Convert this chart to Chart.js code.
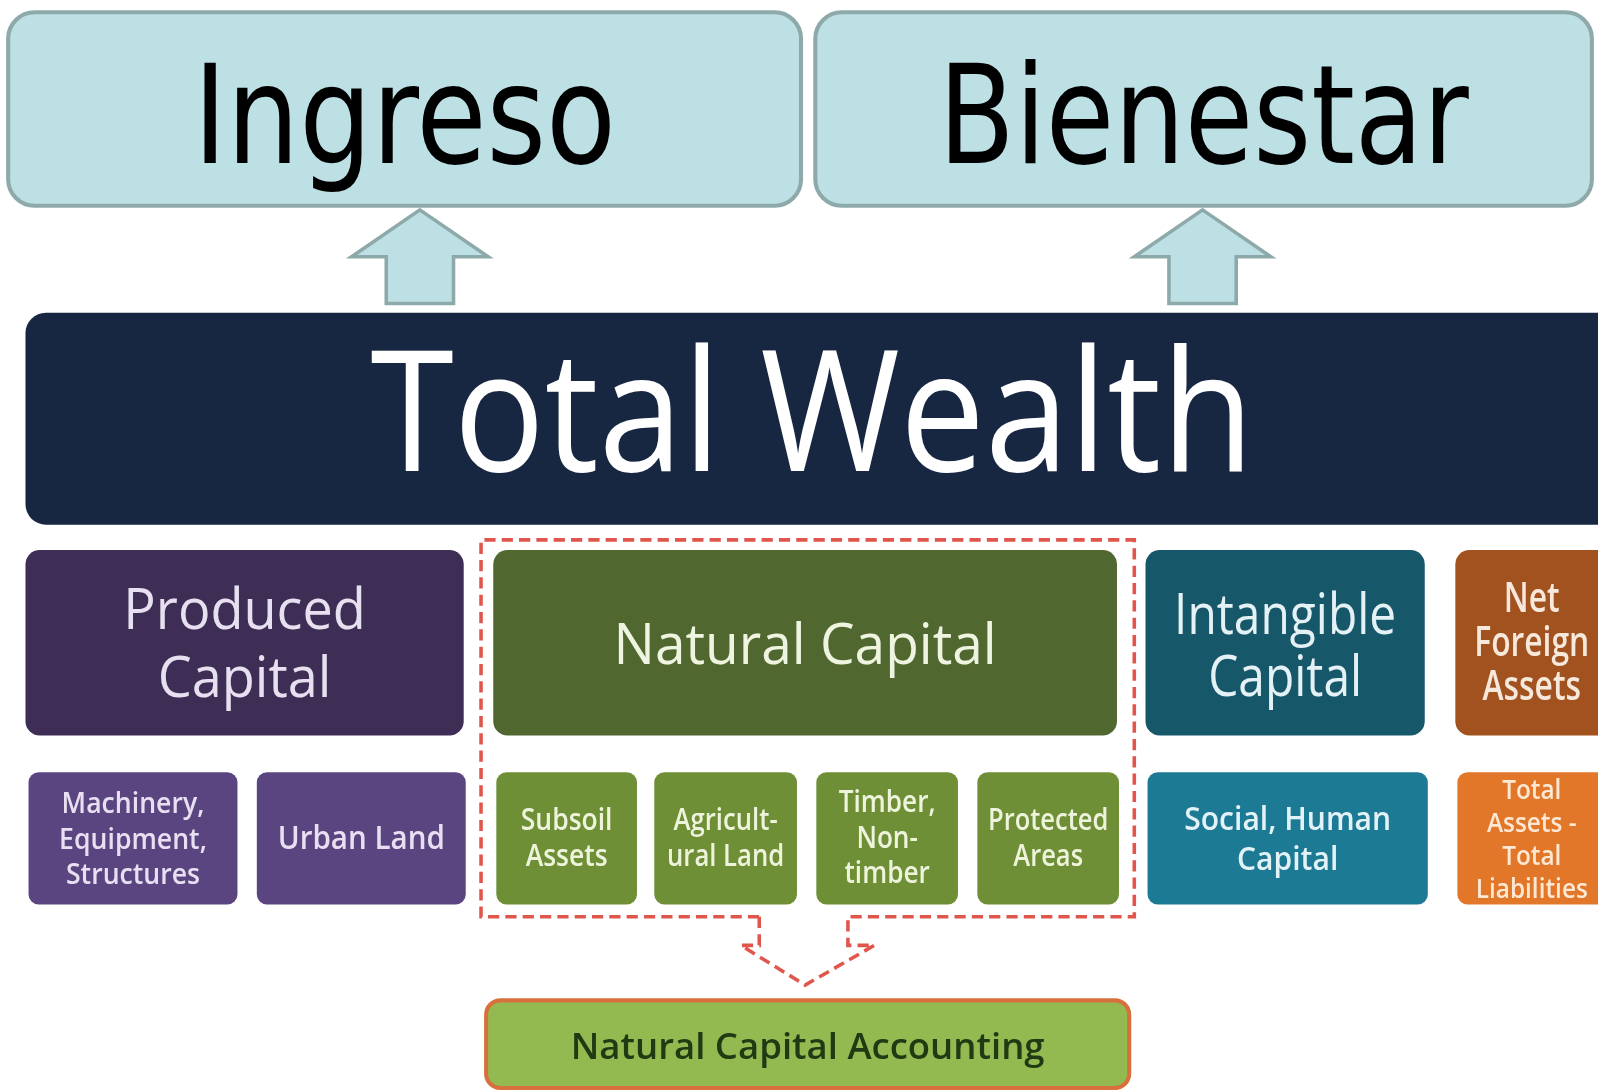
<!DOCTYPE html>
<html>
<head>
<meta charset="utf-8">
<script src="https://cdn.jsdelivr.net/npm/chart.js@4.4.1/dist/chart.umd.min.js"></script>
<style>
  html, body { margin: 0; padding: 0; background: #fff; }
  canvas { display: block; }
</style>
</head>
<body>
<canvas id="chart" width="1598" height="1090"></canvas>
<script>
// diagram texts
const outcomes = ['Ingreso', 'Bienestar'];
const wealth = ['Total Wealth'];
const capitals = [
  ['Produced', 'Capital'],
  ['Natural Capital'],
  ['Intangible', 'Capital'],
  ['Net', 'Foreign', 'Assets']
];
const components = [
  ['Machinery,', 'Equipment,', 'Structures'],
  ['Urban Land'],
  ['Subsoil', 'Assets'],
  ['Agricult-', 'ural Land'],
  ['Timber,', 'Non-', 'timber'],
  ['Protected', 'Areas'],
  ['Social, Human', 'Capital'],
  ['Total', 'Assets -', 'Total', 'Liabilities']
];
const accounting = ['Natural Capital Accounting'];

// layout, in axis units (0..1568 x 0..1070)
const SANS = '"Open Sans", sans-serif';
const TOP = '"Liberation Sans Narrow", "DejaVu Sans Condensed", sans-serif';

const outcomeBoxes = [
  { x0: 8, x1: 786, y0: 12, y1: 202, base: 160, fit: 415 },
  { x0: 800, x1: 1562, y0: 12, y1: 202, base: 160, fit: 520 }
];
const arrows = [{ cx: 412 }, { cx: 1180 }];
const wealthBox = { x0: 25, x1: 1600, y0: 307, y1: 515, base: 462, fit: 867, size: 166 };
const capitalBoxes = [
  { x0: 25, x1: 455, fill: '#3e2d55', color: '#e6e0f0', size: 56, base: 617, step: 67, fit: 238, wt: 500 },
  { x0: 484, x1: 1096, fill: '#50672f', color: '#eef4e0', size: 56, base: 652, step: 0, fit: 376, wt: 500 },
  { x0: 1124, x1: 1398, fill: '#16576a', color: '#e4f1f5', size: 56, base: 622, step: 61, fit: 218, wt: 500 },
  { x0: 1428, x1: 1600, cx: 1503, fill: '#a2521f', color: '#f7e8dc', size: 40, base: 601, step: 43, fit: 113, wt: 600 }
];
const componentBoxes = [
  { x0: 28, x1: 233, fill: '#5b4580', color: '#e8e0f2', size: 28, base: 798, step: 35, fit: 145 },
  { x0: 252, x1: 457, fill: '#5b4580', color: '#e8e0f2', size: 32, base: 833, step: 0, fit: 164 },
  { x0: 487, x1: 625, fill: '#6e8f36', color: '#eef4dc', size: 30, base: 815, step: 35, fit: 90 },
  { x0: 642, x1: 782, fill: '#6e8f36', color: '#eef4dc', size: 30, base: 815, step: 35, fit: 115 },
  { x0: 801, x1: 940, fill: '#6e8f36', color: '#eef4dc', size: 30, base: 797, step: 35, fit: 95 },
  { x0: 959, x1: 1098, fill: '#6e8f36', color: '#eef4dc', size: 30, base: 815, step: 35, fit: 118 },
  { x0: 1126, x1: 1401, fill: '#1d7a95', color: '#e2f2f6', size: 32, base: 815, step: 39, fit: 203 },
  { x0: 1430, x1: 1600, cx: 1503, fill: '#e2772a', color: '#fde8d4', size: 27, base: 784, step: 32.5, fit: 110 }
];
const accountingBox = { x0: 477, x1: 1108, y0: 982, y1: 1068, base: 1040, fit: 465, size: 35 };
const dashedPath = [
  [745, 900], [745, 928], [727, 928], [790, 967], [858, 928], [832, 928], [832, 900],
  [1113, 900], [1113, 530], [472, 530], [472, 900], [745, 900]
];

const diagram = {
  id: 'diagram',
  afterDraw(chart) {
    const ctx = chart.ctx;
    const xs = chart.scales.x, ys = chart.scales.y;
    const X = v => xs.getPixelForValue(v);
    const Y = v => ys.getPixelForValue(v);
    const k = (X(1568) - X(0)) / 1568;

    function box(x0, x1, y0, y1, r, fill, stroke, lw) {
      ctx.beginPath();
      ctx.roundRect(X(x0), Y(y0), X(x1) - X(x0), Y(y1) - Y(y0), r * k);
      ctx.fillStyle = fill;
      ctx.fill();
      if (stroke) {
        ctx.lineWidth = lw * k;
        ctx.strokeStyle = stroke;
        ctx.stroke();
      }
    }

    function label(lines, cx, base, step, size, font, fit, color, wt) {
      ctx.font = `${wt || 'normal'} ${size * k}px ${font}`;
      const widest = Math.max(...lines.map(t => ctx.measureText(t).width));
      const sx = (fit * k) / widest;
      ctx.fillStyle = color;
      ctx.textAlign = 'center';
      ctx.textBaseline = 'alphabetic';
      lines.forEach((t, i) => {
        ctx.save();
        ctx.translate(X(cx), Y(base + i * step));
        ctx.scale(sx, 1);
        ctx.fillText(t, 0, 0);
        ctx.restore();
      });
    }

    ctx.save();

    // outcome boxes
    outcomeBoxes.forEach((b, i) => {
      box(b.x0, b.x1, b.y0, b.y1, 26, '#bce0e4', '#8ea9aa', 4);
      label([outcomes[i]], (b.x0 + b.x1) / 2, b.base, 0, 134, TOP, b.fit, '#000');
    });

    // arrows up
    arrows.forEach(a => {
      const pts = [[a.cx, 206], [a.cx + 67, 252], [a.cx + 33, 252], [a.cx + 33, 298],
                   [a.cx - 33, 298], [a.cx - 33, 252], [a.cx - 67, 252]];
      ctx.beginPath();
      pts.forEach(([x, y], j) => j ? ctx.lineTo(X(x), Y(y)) : ctx.moveTo(X(x), Y(y)));
      ctx.closePath();
      ctx.fillStyle = '#bce0e4';
      ctx.fill();
      ctx.lineWidth = 3.5 * k;
      ctx.strokeStyle = '#8ea9aa';
      ctx.stroke();
    });

    // total wealth
    const w = wealthBox;
    box(w.x0, w.x1, w.y0, w.y1, 20, '#172641');
    label(wealth, 797, w.base, 0, w.size, SANS, w.fit, '#ffffff');

    // capitals
    capitalBoxes.forEach((b, i) => {
      box(b.x0, b.x1, 540, 722, 14, b.fill);
      label(capitals[i], b.cx ?? (b.x0 + b.x1) / 2, b.base, b.step, b.size, SANS, b.fit, b.color, b.wt);
    });

    // components
    componentBoxes.forEach((b, i) => {
      box(b.x0, b.x1, 758, 888, 10, b.fill);
      label(components[i], b.cx ?? (b.x0 + b.x1) / 2, b.base, b.step, b.size, SANS, b.fit, b.color, 600);
    });

    // dashed frame around natural capital with arrow
    ctx.beginPath();
    dashedPath.forEach(([x, y], j) => j ? ctx.lineTo(X(x), Y(y)) : ctx.moveTo(X(x), Y(y)));
    ctx.setLineDash([11 * k, 6 * k]);
    ctx.lineWidth = 3.5 * k;
    ctx.strokeStyle = '#e0564c';
    ctx.stroke();
    ctx.setLineDash([]);

    // accounting box
    const a = accountingBox;
    box(a.x0, a.x1, a.y0, a.y1, 14, '#93ba51', '#d7703c', 4);
    label(accounting, (a.x0 + a.x1) / 2, a.base, 0, a.size, SANS, a.fit, '#213a14', 600);

    ctx.restore();
  }
};

new Chart(document.getElementById('chart'), {
  type: 'scatter',
  data: { datasets: [{ data: [] }] },
  options: {
    responsive: false,
    animation: false,
    devicePixelRatio: 1,
    layout: { padding: 0 },
    plugins: { legend: { display: false }, tooltip: { enabled: false } },
    scales: {
      x: { type: 'linear', min: 0, max: 1568, display: false },
      y: { type: 'linear', min: 0, max: 1070, reverse: true, display: false }
    }
  },
  plugins: [diagram]
});
</script>
</body>
</html>
